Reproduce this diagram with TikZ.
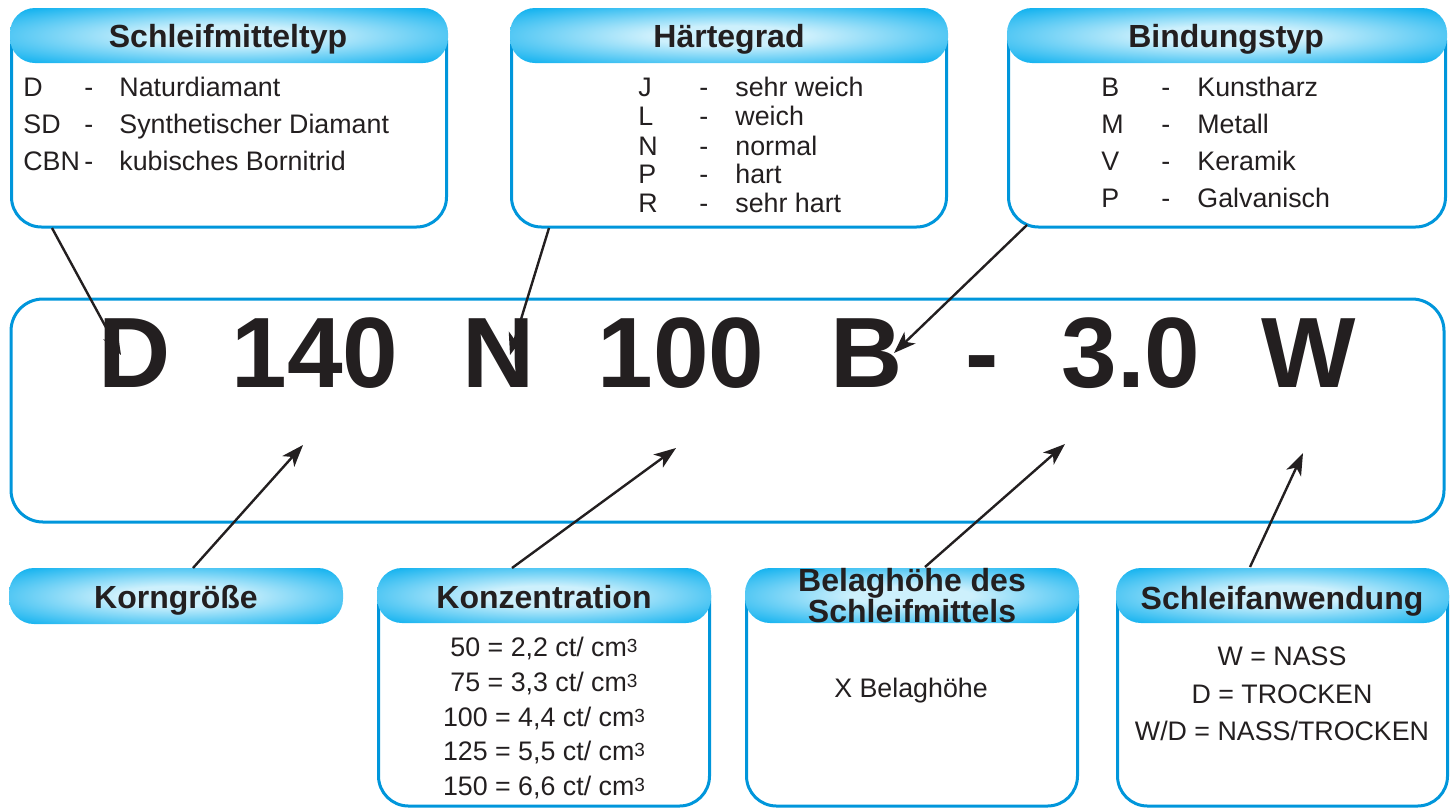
\documentclass[tikz,border=0pt]{standalone}
\usepackage{fontspec}
\setmainfont{Liberation Sans}
\usetikzlibrary{arrows.meta}
\definecolor{hcyan}{RGB}{0,172,238}
\definecolor{hlight}{RGB}{205,240,252}
\definecolor{oline}{RGB}{0,150,219}
\definecolor{ink}{RGB}{35,31,32}
\pgfdeclareradialshading{hdrshade}{\pgfpoint{0bp}{0bp}}{color(0bp)=(hlight); color(9bp)=(hlight); color(36bp)=(hcyan); color(50bp)=(hcyan)}
\newcommand{\cmcube}{cm\raisebox{2pt}{\fontsize{9.5}{9.5}\selectfont 3}}
\tikzset{
  hdr/.style={shading=hdrshade, rounded corners=12.5pt},
  boxline/.style={draw=oline, line width=1.5pt, rounded corners=15pt},
  bigbox/.style={draw=oline, line width=1.5pt, rounded corners=16pt},
  htxt/.style={font=\fontsize{16}{16}\selectfont\bfseries, text=ink, anchor=base, inner sep=0pt},
  btxt/.style={font=\fontsize{13.4}{13.4}\selectfont, text=ink, anchor=base west, inner sep=0pt},
  ctxt/.style={font=\fontsize{13.4}{13.4}\selectfont, text=ink, anchor=base, inner sep=0pt},
  big/.style={font=\fontsize{50}{50}\selectfont\bfseries, text=ink, anchor=base, inner sep=0pt},
  arr/.style={draw=ink, line width=1.2pt, -{Stealth[length=11pt,width=8pt,inset=3pt]}}
}
\begin{document}
\begin{tikzpicture}[x=0.5pt,y=-0.5pt]
\useasboundingbox (0,0) rectangle (1454,809);

% big box
\draw[bigbox] (11,299) rectangle (1444,522);

% top boxes
\draw[boxline] (11.5,40) -- (11.5,227) -- (446.5,227) -- (446.5,40);
\shade[hdr] (10,8) rectangle (448,63);
\draw[boxline] (511.5,40) -- (511.5,227) -- (946.5,227) -- (946.5,40);
\shade[hdr] (510,8) rectangle (948,63);
\draw[boxline] (1008.5,40) -- (1008.5,227) -- (1445.5,227) -- (1445.5,40);
\shade[hdr] (1007,8) rectangle (1447,63);

% bottom boxes
\shade[hdr] (9,568) rectangle (343,624);
\draw[boxline] (378.5,595) -- (378.5,806) -- (709.5,806) -- (709.5,595);
\shade[hdr] (377,568) rectangle (711,623);
\draw[boxline] (746.5,595) -- (746.5,806) -- (1077.5,806) -- (1077.5,595);
\shade[hdr] (745,568) rectangle (1079,623);
\draw[boxline] (1117.5,595) -- (1117.5,806) -- (1447.5,806) -- (1447.5,595);
\shade[hdr] (1116,568) rectangle (1449,623);

% headers
\node[htxt] (h1) at (228,47) {Schleifmitteltyp};
\node[htxt] (h2) at (729,47) {Härtegrad};
\node[htxt] (h3) at (1226,47) {Bindungstyp};
\node[htxt] (h4) at (176,608) {Korngröße};
\node[htxt] (h5) at (544,608) {Konzentration};
\node[htxt] (h6a) at (912,591) {Belaghöhe des};
\node[htxt] (h6b) at (912,622) {Schleifmittels};
\node[htxt] (h7) at (1282,609) {Schleifanwendung};

% box 1 content
\node[btxt] (t1a) at (23,96) {D};
\node[btxt] (t1b) at (84,96) {-};
\node[btxt] (t1c) at (119,96) {Naturdiamant};
\node[btxt] (t2a) at (23,133) {SD};
\node[btxt] (t2b) at (84,133) {-};
\node[btxt] (t2c) at (119,133) {Synthetischer Diamant};
\node[btxt] (t3a) at (23,170) {CBN};
\node[btxt] (t3b) at (84,170) {-};
\node[btxt] (t3c) at (119,170) {kubisches Bornitrid};

% box 2 content
\node[btxt] (u1a) at (638,96) {J};
\node[btxt] (u1b) at (699,96) {-};
\node[btxt] (u1c) at (735,96) {sehr weich};
\node[btxt] (u2a) at (638,125) {L};
\node[btxt] (u2b) at (699,125) {-};
\node[btxt] (u2c) at (735,125) {weich};
\node[btxt] (u3a) at (638,155) {N};
\node[btxt] (u3b) at (699,155) {-};
\node[btxt] (u3c) at (735,155) {normal};
\node[btxt] (u4a) at (638,183) {P};
\node[btxt] (u4b) at (699,183) {-};
\node[btxt] (u4c) at (735,183) {hart};
\node[btxt] (u5a) at (638,212) {R};
\node[btxt] (u5b) at (699,212) {-};
\node[btxt] (u5c) at (735,212) {sehr hart};

% box 3 content
\node[btxt] (v1a) at (1101,96) {B};
\node[btxt] (v1b) at (1161,96) {-};
\node[btxt] (v1c) at (1197,96) {Kunstharz};
\node[btxt] (v2a) at (1101,133) {M};
\node[btxt] (v2b) at (1161,133) {-};
\node[btxt] (v2c) at (1197,133) {Metall};
\node[btxt] (v3a) at (1101,170) {V};
\node[btxt] (v3b) at (1161,170) {-};
\node[btxt] (v3c) at (1197,170) {Keramik};
\node[btxt] (v4a) at (1101,207) {P};
\node[btxt] (v4b) at (1161,207) {-};
\node[btxt] (v4c) at (1197,207) {Galvanisch};

% Konzentration content
\node[ctxt] (k1) at (544,656) {50 = 2,2 ct/ \cmcube};
\node[ctxt] (k2) at (544,691) {75 = 3,3 ct/ \cmcube};
\node[ctxt] (k3) at (544,726) {100 = 4,4 ct/ \cmcube};
\node[ctxt] (k4) at (544,760) {125 = 5,5 ct/ \cmcube};
\node[ctxt] (k5) at (544,795) {150 = 6,6 ct/ \cmcube};

% Belaghoehe content
\node[ctxt] (b1) at (911,697) {X Belaghöhe};

% Schleifanwendung content
\node[ctxt] (w1) at (1282,665) {W = NASS};
\node[ctxt] (w2) at (1282,703) {D = TROCKEN};
\node[ctxt] (w3) at (1282,740) {W/D = NASS/TROCKEN};

% big code
\node[big] (cD) at (135,387) {D};
\node[big] (c140) at (315,387) {140};
\node[big] (cN) at (499,387) {N};
\node[big] (c100) at (681,387) {100};
\node[big] (cB) at (867,387) {B};
\node[big] (cdash) at (982,387) {-};
\node[big] (c30) at (1131,387) {3.0};
\node[big] (cW) at (1309,387) {W};

% connector endpoints
\coordinate (s1) at (52,228);   \coordinate (e1) at (121,355);
\coordinate (s2) at (549,228);  \coordinate (e2) at (510,355);
\coordinate (s3) at (1027,225); \coordinate (e3) at (894,353);
\coordinate (s4) at (193,568);  \coordinate (e4) at (303,445);
\coordinate (s5) at (512,568);  \coordinate (e5) at (676,448);
\coordinate (s6) at (925,567);  \coordinate (e6) at (1065,444);
\coordinate (s7) at (1250,567); \coordinate (e7) at (1303,453);

\draw[arr] (s1) -- (e1);
\draw[arr] (s2) -- (e2);
\draw[arr] (s3) -- (e3);
\draw[arr] (s4) -- (e4);
\draw[arr] (s5) -- (e5);
\draw[arr] (s6) -- (e6);
\draw[arr] (s7) -- (e7);
\end{tikzpicture}
\end{document}
